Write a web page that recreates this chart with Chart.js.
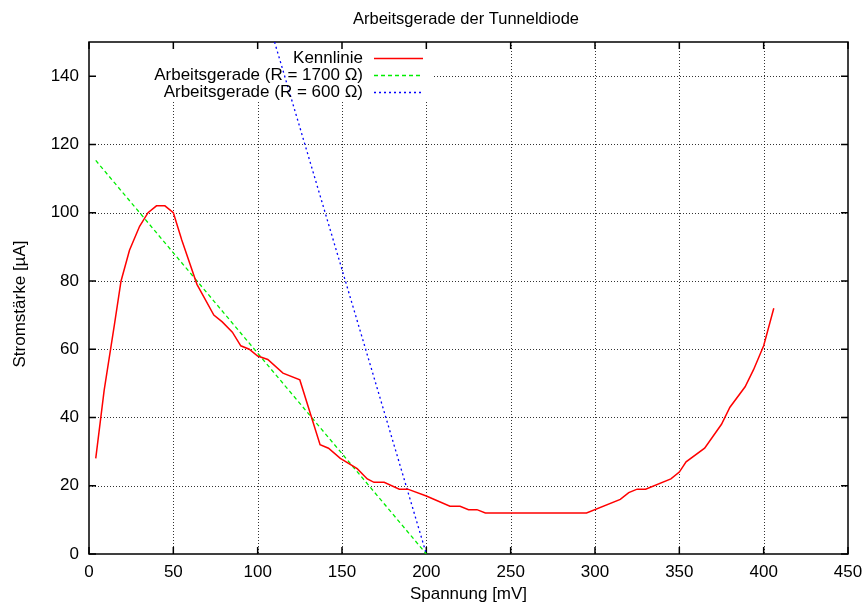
<!DOCTYPE html>
<html>
<head>
<meta charset="utf-8">
<script src="https://cdn.jsdelivr.net/npm/chart.js@4"></script>
<style>
html,body{margin:0;padding:0;background:#fff;}
canvas{display:block;}
</style>
</head>
<body>
<canvas id="c" width="866" height="606"></canvas>
<script>
// Kennlinie der Tunneldiode: Spannung [mV] / Stromstärke [µA]
const spannung = [4, 9, 15, 19, 24, 30, 35, 40, 45, 50, 55, 64, 74, 79, 85, 90, 95, 100, 106, 115, 125, 137, 142, 149, 159, 165, 169, 175, 184, 189, 200, 214, 220, 225, 230, 235, 295, 315, 320, 325, 330, 345, 350, 354, 365, 375, 380, 389, 394, 400, 406];
const strom     = [28, 48, 67, 80, 89, 96, 100, 102, 102, 100, 92, 79, 70, 68, 65, 61, 60, 58, 57, 53, 51, 32, 31, 28, 25, 22, 21, 21, 19, 19, 17, 14, 14, 13, 13, 12, 12, 16, 18, 19, 19, 22, 24, 27, 31, 38, 43, 49, 54, 61, 72];

// Arbeitsgerade R = 1700 Ohm (endpoints)
const gerade1700U = [4, 200];
const gerade1700I = [115.3, 0];
// Arbeitsgerade R = 600 Ohm (endpoints)
const gerade600U = [110, 200];
const gerade600I = [150, 0];

const xTicks = [0, 50, 100, 150, 200, 250, 300, 350, 400, 450];
const yTicks = [0, 20, 40, 60, 80, 100, 120, 140];

const titel = 'Arbeitsgerade der Tunneldiode';
const xTitel = 'Spannung [mV]';
const yTitel = 'Stromstärke [µA]';
const legendLabels = ['Kennlinie', 'Arbeitsgerade (R = 1700 Ω)', 'Arbeitsgerade (R = 600 Ω)'];

const FONT = '"Liberation Sans", Arial, Helvetica, sans-serif';
const FS = 17;

function pts(xs, ys) { return xs.map((x, i) => ({x: x, y: ys[i]})); }

const gnuplotFrame = {
  id: 'gnuplotFrame',
  beforeDatasetsDraw(chart) {
    const ctx = chart.ctx, ca = chart.chartArea;
    const xs = chart.scales.x, ys = chart.scales.y;
    // grid, cleared in key area
    ctx.save();
    ctx.beginPath();
    ctx.rect(ca.left, ca.top, ca.right - ca.left, ca.bottom - ca.top);
    ctx.rect(ca.left, ca.top, 433 - ca.left, 102 - ca.top);
    ctx.clip('evenodd');
    ctx.strokeStyle = 'rgba(0,0,0,0.8)';
    ctx.lineWidth = 1;
    ctx.setLineDash([1, 2]);
    xTicks.forEach(v => {
      if (v <= xs.min || v >= xs.max) return;
      const p = Math.round(xs.getPixelForValue(v)) + 0.5;
      ctx.beginPath(); ctx.moveTo(p, ca.top); ctx.lineTo(p, ca.bottom); ctx.stroke();
    });
    yTicks.forEach(v => {
      if (v <= ys.min || v >= ys.max) return;
      const p = Math.round(ys.getPixelForValue(v)) + 0.5;
      ctx.beginPath(); ctx.moveTo(ca.left, p); ctx.lineTo(ca.right, p); ctx.stroke();
    });
    ctx.restore();
    // frame + ticks
    ctx.save();
    ctx.strokeStyle = '#000';
    ctx.lineWidth = 1.5;
    ctx.setLineDash([]);
    ctx.strokeRect(ca.left, ca.top, ca.right - ca.left, ca.bottom - ca.top);
    const tl = 7;
    xTicks.forEach(v => {
      const p = xs.getPixelForValue(v);
      ctx.beginPath();
      ctx.moveTo(p, ca.bottom); ctx.lineTo(p, ca.bottom - tl);
      ctx.moveTo(p, ca.top); ctx.lineTo(p, ca.top + tl);
      ctx.stroke();
    });
    yTicks.forEach(v => {
      const p = ys.getPixelForValue(v);
      ctx.beginPath();
      ctx.moveTo(ca.left, p); ctx.lineTo(ca.left + tl, p);
      ctx.moveTo(ca.right, p); ctx.lineTo(ca.right - tl, p);
      ctx.stroke();
    });
    ctx.restore();
  },
  afterDraw(chart) {
    const ctx = chart.ctx, ca = chart.chartArea;
    ctx.save();
    ctx.fillStyle = '#000';
    ctx.textAlign = 'center';
    ctx.textBaseline = 'middle';
    ctx.font = '16.5px ' + FONT;
    ctx.fillText(titel, 466, 19);
    ctx.font = FS + 'px ' + FONT;
    ctx.fillText(xTitel, (ca.left + ca.right) / 2, 594);
    ctx.save();
    ctx.translate(20, 304);
    ctx.rotate(-Math.PI / 2);
    ctx.fillText(yTitel, 0, 0);
    ctx.restore();
    // key
    const ds = chart.data.datasets;
    const rows = [58.5, 75.5, 92.5];
    ctx.textAlign = 'right';
    ds.forEach((d, i) => {
      ctx.fillStyle = '#000';
      ctx.fillText(legendLabels[i], 363, rows[i]);
      ctx.beginPath();
      ctx.strokeStyle = d.borderColor;
      ctx.lineWidth = d.borderWidth;
      ctx.setLineDash(d.borderDash || []);
      ctx.moveTo(374, rows[i]); ctx.lineTo(423, rows[i]);
      ctx.stroke();
    });
    ctx.restore();
  }
};

new Chart(document.getElementById('c'), {
  type: 'line',
  data: {
    datasets: [
      { label: legendLabels[0], data: pts(spannung, strom), borderColor: '#ff0000', borderWidth: 1.5, pointRadius: 0, tension: 0, fill: false },
      { label: legendLabels[1], data: pts(gerade1700U, gerade1700I), borderColor: '#00ee00', borderWidth: 1.3, borderDash: [4, 3], pointRadius: 0, tension: 0, fill: false },
      { label: legendLabels[2], data: pts(gerade600U, gerade600I), borderColor: '#0000ff', borderWidth: 1.3, borderDash: [2, 3], pointRadius: 0, tension: 0, fill: false }
    ]
  },
  options: {
    responsive: false,
    devicePixelRatio: 1,
    animation: false,
    layout: { padding: { left: 0, top: 42, right: 18, bottom: 0 } },
    plugins: { legend: { display: false }, title: { display: false }, tooltip: { enabled: false } },
    scales: {
      x: {
        type: 'linear', min: 0, max: 450,
        afterBuildTicks: s => { s.ticks = xTicks.map(v => ({value: v})); },
        afterFit: s => { s.height = 52; s.paddingLeft = 0; s.paddingRight = 0; },
        grid: { display: false, drawTicks: false },
        border: { display: false },
        ticks: { color: '#000', font: { family: FONT, size: FS }, padding: 8, maxRotation: 0, autoSkip: false }
      },
      y: {
        type: 'linear', min: 0, max: 150,
        afterBuildTicks: s => { s.ticks = yTicks.map(v => ({value: v})); },
        afterFit: s => { s.width = 89; s.paddingTop = 0; s.paddingBottom = 0; },
        grid: { display: false, drawTicks: false },
        border: { display: false },
        ticks: { color: '#000', font: { family: FONT, size: FS }, padding: 10, autoSkip: false }
      }
    }
  },
  plugins: [gnuplotFrame]
});
</script>
</body>
</html>
